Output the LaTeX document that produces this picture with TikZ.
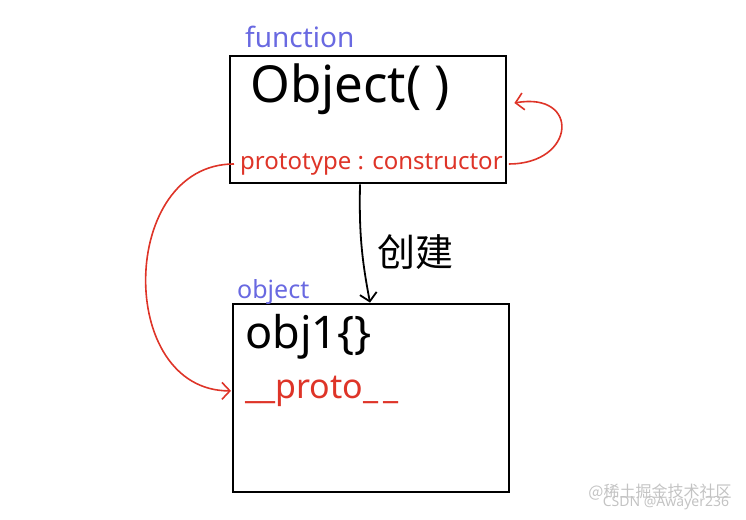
\documentclass[tikz,border=0pt]{standalone}
\usepackage{fontspec}
\setmainfont{Noto Sans}
\newfontfamily\cjk{Noto Sans CJK SC}
\usetikzlibrary{arrows.meta}
\definecolor{inkblue}{RGB}{105,105,225}
\definecolor{inkred}{RGB}{222,52,40}
\definecolor{markgray}{RGB}{195,195,195}

\tikzstyle{box} = [rectangle, minimum width=276pt, draw=black, line width=2.8pt]
\tikzstyle{hand} = [inner sep=0pt, anchor=base west]
\tikzstyle{tag} = [hand, text=inkblue, font=\fontsize{28}{28}\selectfont]
\tikzstyle{redtext} = [hand, text=inkred, font=\fontsize{24}{24}\selectfont]
\tikzstyle{wmark} = [inner sep=0pt, text=markgray]

\begin{document}
\begin{tikzpicture}[x=1pt, y=-1pt, >={Straight Barb[length=8pt,width=17pt]}]
  \useasboundingbox (0,0) rectangle (746,519);
  \node (fbox) [box, minimum height=127pt] at (368,119.5) {};
  \node (obox) [box, minimum height=188pt] at (371,398) {};
  \node (ftag) [tag] at (245,48) {function};
  \node (otag) [tag, font=\fontsize{25}{25}\selectfont] at (237,298) {object};
  \node (objfn) [hand, font=\fontsize{51}{51}\selectfont] at (250,102) {Object( )};
  \node (ptype) [redtext] at (240,169) {prototype : constructor};
  \node (obj) [hand, font=\fontsize{45}{45}\selectfont] at (245,348) {obj1\{\}};
  \node (proto) [redtext, font=\fontsize{34}{34}\selectfont] at (245,398) {\_\_proto\_\,\_};
  \node (create) at (415,252) {\cjk\fontsize{38}{38}\selectfont 创建};
  \node (wm1) [wmark] at (660,492) {\cjk\fontsize{16}{16}\selectfont @稀土掘金技术社区};
  \node (wm2) [wmark] at (666,503) {\fontsize{14}{14}\selectfont CSDN @Awayer236};
  % connections
  \path [line width=1.6pt,inkred,->] ([xshift=-6pt]ptype.west) edge[out=180, in=180, looseness=1.3] ([xshift=-14pt]proto.west);
  \path [line width=1.6pt,inkred,->] ([xshift=6pt]ptype.east) edge[out=0, in=10, looseness=2.8] ([xshift=7pt,yshift=16.5pt]fbox.east);
  \path [line width=1.8pt,->] ([xshift=-8pt]fbox.south) edge[bend right=6] ([xshift=-1pt]obox.north);
\end{tikzpicture}
\end{document}
